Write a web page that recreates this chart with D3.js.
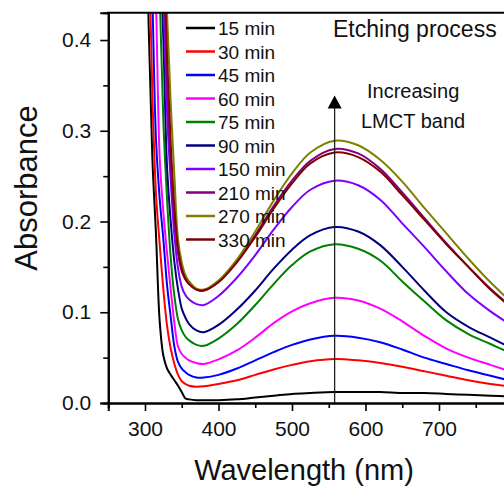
<!DOCTYPE html>
<html><head><meta charset="utf-8">
<script src="https://cdn.jsdelivr.net/npm/d3@7"></script>
<style>html,body{margin:0;padding:0;background:#fff;}svg{display:block;font-family:"Liberation Sans",Arial,Helvetica,sans-serif;}</style>
</head><body>
<svg id="chart" width="504" height="491"></svg>
<script>
const wavelengths = [300,305,310,315,320,325,330,335,340,345,350,355,360,370,380,400,425,450,475,500,525,558,590,620,650,680,710,740,770,800];
const s15  = [0.60,0.415,0.27,0.185,0.09,0.052,0.038,0.031,0.025,0.019,0.012,0.005,0.004,0.003,0.003,0.003,0.004,0.006,0.008,0.010,0.011,0.012,0.012,0.012,0.011,0.011,0.010,0.009,0.008,0.007];
const s30  = [0.75,0.52,0.34,0.23,0.175,0.125,0.085,0.060,0.043,0.031,0.024,0.021,0.019,0.018,0.0185,0.021,0.025,0.031,0.037,0.042,0.046,0.0485,0.047,0.044,0.040,0.035,0.030,0.025,0.021,0.018];
const s45  = [0.85,0.62,0.45,0.29,0.225,0.18,0.13,0.095,0.062,0.045,0.038,0.034,0.031,0.028,0.028,0.031,0.038,0.047,0.056,0.064,0.070,0.074,0.072,0.067,0.059,0.050,0.043,0.036,0.030,0.024];
const s60  = [0.95,0.75,0.57,0.44,0.27,0.21,0.165,0.125,0.088,0.062,0.054,0.050,0.047,0.044,0.043,0.048,0.058,0.072,0.088,0.101,0.110,0.116,0.113,0.104,0.090,0.074,0.060,0.050,0.042,0.034];
const s75  = [1.10,0.85,0.68,0.56,0.45,0.31,0.225,0.16,0.118,0.092,0.080,0.073,0.069,0.064,0.063,0.071,0.087,0.108,0.131,0.152,0.167,0.175,0.170,0.157,0.134,0.112,0.091,0.076,0.065,0.054];
const s90  = [1.20,0.95,0.77,0.63,0.52,0.40,0.26,0.20,0.155,0.125,0.104,0.094,0.087,0.080,0.078,0.086,0.103,0.124,0.148,0.169,0.185,0.194,0.189,0.174,0.150,0.124,0.100,0.084,0.072,0.060];
const s150 = [1.30,1.00,0.85,0.70,0.58,0.46,0.32,0.245,0.185,0.148,0.128,0.119,0.114,0.109,0.108,0.118,0.138,0.163,0.191,0.216,0.235,0.245,0.240,0.224,0.198,0.172,0.145,0.120,0.101,0.085];
const s210 = [1.35,1.10,0.90,0.75,0.62,0.50,0.36,0.265,0.205,0.165,0.145,0.136,0.131,0.125,0.124,0.134,0.157,0.185,0.217,0.245,0.267,0.280,0.275,0.258,0.232,0.204,0.176,0.150,0.126,0.105];
const s270 = [1.45,1.20,1.00,0.82,0.67,0.54,0.43,0.33,0.25,0.18,0.155,0.141,0.134,0.126,0.125,0.135,0.158,0.189,0.223,0.253,0.276,0.289,0.284,0.268,0.244,0.215,0.187,0.159,0.133,0.110];
const s330 = [1.40,1.15,0.95,0.78,0.64,0.52,0.38,0.285,0.215,0.17,0.148,0.137,0.131,0.125,0.124,0.133,0.155,0.183,0.214,0.242,0.264,0.276,0.271,0.255,0.229,0.202,0.175,0.150,0.125,0.104];
const seriesLabels = ["15 min","30 min","45 min","60 min","75 min","90 min","150 min","210 min","270 min","330 min"];
const seriesValues = [s15,s30,s45,s60,s75,s90,s150,s210,s270,s330];
const seriesColors = ["#000000","#ff0000","#0000ff","#ff00ff","#008000","#000080","#8000ff","#800080","#808000","#800000"];
const yTicks = [0.0,0.1,0.2,0.3,0.4];
const yMinor = [0.05,0.15,0.25,0.35];
const xTicks = [300,400,500,600,700];
const xMinor = [250,350,450,550,650,750];
const arrowWavelength = 558;
const arrowTop = 0.339;

const svg = d3.select("#chart");
const x = d3.scaleLinear().domain([250,800]).range([108.25,512.5]);
const y = d3.scaleLinear().domain([0,0.43]).range([403,12.8]);

svg.append("defs").append("clipPath").attr("id","plotclip")
  .append("rect").attr("x",x(250)).attr("y",y(0.43)).attr("width",x(800)-x(250)).attr("height",y(0)-y(0.43));

const line = d3.line().x((d,i)=>x(wavelengths[i])).y(d=>y(d)).curve(d3.curveCatmullRom.alpha(0.5));
const g = svg.append("g").attr("clip-path","url(#plotclip)");
seriesValues.forEach((vals,k)=>{
  g.append("path").attr("d",line(vals)).attr("fill","none")
   .attr("stroke",seriesColors[k]).attr("stroke-width",2).attr("stroke-linejoin","round");
});

// arrow
const ax = x(arrowWavelength);
svg.append("line").attr("x1",ax).attr("x2",ax).attr("y1",y(0)).attr("y2",y(arrowTop)+12)
  .attr("stroke","#222").attr("stroke-width",1.3);
svg.append("path").attr("d",`M${ax},${y(arrowTop)} L${ax-7},${y(arrowTop)+13} L${ax+7},${y(arrowTop)+13} Z`).attr("fill","#000");

// axes
const fontTick = 21;
svg.append("g").attr("transform",`translate(${x(250)},0)`)
  .call(d3.axisLeft(y).tickValues(yTicks).tickSize(8).tickPadding(9).tickFormat(d3.format(".1f")));
svg.append("g").attr("transform",`translate(${x(250)},0)`)
  .call(d3.axisLeft(y).tickValues(yMinor).tickSize(5).tickFormat(""));
svg.append("g").attr("transform",`translate(0,${y(0)})`)
  .call(d3.axisBottom(x).tickValues(xTicks).tickSize(8).tickPadding(10).tickFormat(d3.format("d")));
svg.append("g").attr("transform",`translate(0,${y(0)})`)
  .call(d3.axisBottom(x).tickValues(xMinor).tickSize(5).tickFormat(""));
svg.selectAll(".domain").attr("stroke","#000").attr("stroke-width",2);
svg.selectAll(".tick line").attr("stroke","#000").attr("stroke-width",1.6);
svg.selectAll(".tick text").attr("font-size",fontTick).attr("fill","#111").attr("font-family","Liberation Sans, Arial, sans-serif");
// top frame
svg.append("line").attr("x1",x(250)-1).attr("x2",x(800)).attr("y1",y(0.43)).attr("y2",y(0.43)).attr("stroke","#000").attr("stroke-width",2);

// axis titles
svg.append("text").attr("x",304).attr("y",480).attr("text-anchor","middle").attr("font-size",29).attr("fill","#111").text("Wavelength (nm)");
svg.append("text").attr("transform","translate(37,188) rotate(-90)").attr("text-anchor","middle").attr("font-size",31).attr("fill","#111").text("Absorbance");

// legend
seriesLabels.forEach((lab,k)=>{
  const cy = 28 + k*23.5;
  svg.append("line").attr("x1",186).attr("x2",215).attr("y1",cy).attr("y2",cy).attr("stroke",seriesColors[k]).attr("stroke-width",2.5);
  svg.append("text").attr("x",218).attr("y",cy+7).attr("font-size",19).attr("fill","#111").text(lab);
});

// annotations
svg.append("text").attr("x",333).attr("y",37).attr("font-size",23).attr("fill","#111").text("Etching process");
svg.append("text").attr("x",367).attr("y",98).attr("font-size",20).attr("fill","#111").text("Increasing");
svg.append("text").attr("x",361).attr("y",128).attr("font-size",20).attr("fill","#111").text("LMCT band");
</script>
</body></html>
